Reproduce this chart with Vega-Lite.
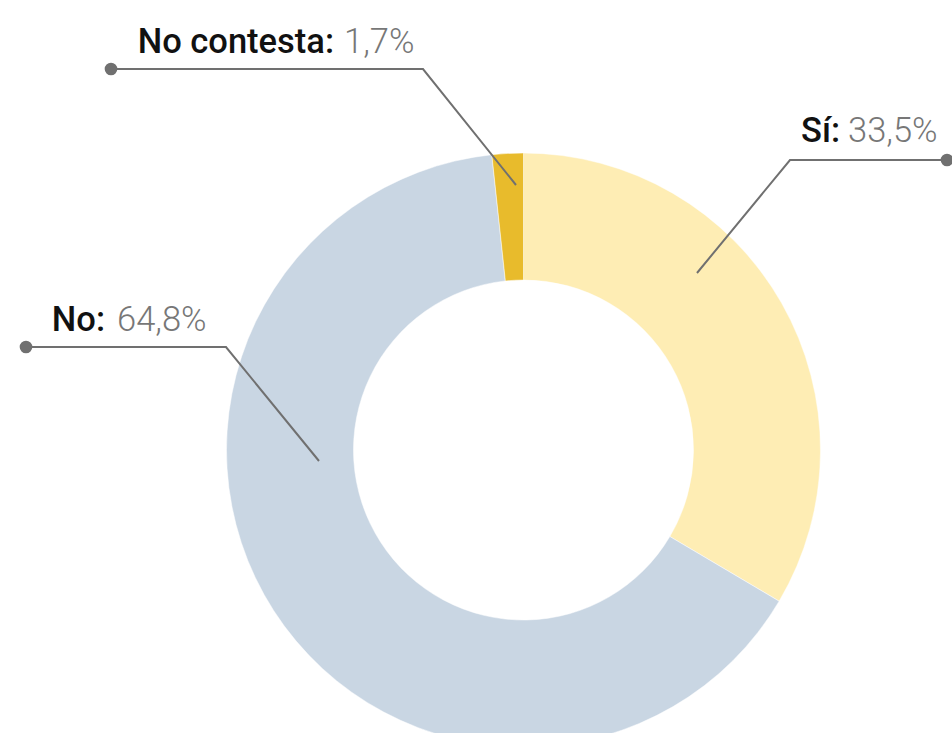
{
  "$schema": "https://vega.github.io/schema/vega-lite/v6.json",
  "autosize": {"type": "none"},
  "width": 952,
  "height": 733,
  "padding": 0,
  "background": "white",
  "config": {"view": {"stroke": null}, "font": "Roboto"},
  "datasets": {
    "slices": [
      {"respuesta": "Sí", "pct": 33.5, "ord": 1},
      {"respuesta": "No", "pct": 64.8, "ord": 2},
      {"respuesta": "No contesta", "pct": 1.7, "ord": 3}
    ],
    "leaders": [
      {"respuesta": "Sí", "step": 1, "lx": 1.735, "ly": 1.77},
      {"respuesta": "Sí", "step": 2, "lx": 2.665, "ly": 2.90},
      {"respuesta": "Sí", "step": 3, "lx": 4.235, "ly": 2.90},
      {"respuesta": "No contesta", "step": 1, "lx": -0.075, "ly": 2.65},
      {"respuesta": "No contesta", "step": 2, "lx": -1.005, "ly": 3.81},
      {"respuesta": "No contesta", "step": 3, "lx": -4.125, "ly": 3.81},
      {"respuesta": "No", "step": 1, "lx": -2.045, "ly": -0.11},
      {"respuesta": "No", "step": 2, "lx": -2.975, "ly": 1.03},
      {"respuesta": "No", "step": 3, "lx": -4.975, "ly": 1.03}
    ],
    "labels": [
      {"respuesta": "Sí", "titulo": "Sí:", "valor": "33,5%", "bx": 3.165, "vx": 3.245, "ty": 3.08},
      {"respuesta": "No contesta", "titulo": "No contesta:", "valor": "1,7%", "bx": -1.895, "vx": -1.795, "ty": 3.97},
      {"respuesta": "No", "titulo": "No:", "valor": "64,8%", "bx": -4.185, "vx": -4.065, "ty": 1.19}
    ]
  },
  "layer": [
    {
      "data": {"name": "slices"},
      "mark": {"type": "arc", "radius": 297, "radius2": 170, "stroke": "white", "strokeWidth": 0.5},
      "encoding": {
        "x": {"datum": 0, "type": "quantitative", "scale": {"domain": [-5.235, 4.285], "nice": false, "zero": false}, "axis": null},
        "y": {"datum": 0, "type": "quantitative", "scale": {"domain": [-2.83, 4.5], "nice": false, "zero": false}, "axis": null},
        "theta": {"field": "pct", "type": "quantitative", "stack": true},
        "order": {"field": "ord", "type": "quantitative"},
        "color": {
          "field": "respuesta",
          "type": "nominal",
          "scale": {"domain": ["Sí", "No", "No contesta"], "range": ["#FEEDB4", "#C9D6E3", "#E8BB2C"]},
          "legend": null
        }
      }
    },
    {
      "data": {"name": "leaders"},
      "mark": {"type": "line", "color": "#707070", "strokeWidth": 2},
      "encoding": {
        "x": {"field": "lx", "type": "quantitative", "axis": null},
        "y": {"field": "ly", "type": "quantitative", "axis": null},
        "detail": {"field": "respuesta"},
        "order": {"field": "step", "type": "quantitative"}
      }
    },
    {
      "data": {"name": "leaders"},
      "transform": [{"filter": "datum.step == 3"}],
      "mark": {"type": "point", "filled": true, "size": 160, "color": "#707070", "opacity": 1},
      "encoding": {
        "x": {"field": "lx", "type": "quantitative", "axis": null},
        "y": {"field": "ly", "type": "quantitative", "axis": null}
      }
    },
    {
      "data": {"name": "labels"},
      "mark": {"type": "text", "align": "right", "baseline": "alphabetic", "fontSize": 34.5, "fontWeight": 500, "color": "#111111"},
      "encoding": {
        "x": {"field": "bx", "type": "quantitative", "axis": null},
        "y": {"field": "ty", "type": "quantitative", "axis": null},
        "text": {"field": "titulo"}
      }
    },
    {
      "data": {"name": "labels"},
      "mark": {"type": "text", "align": "left", "baseline": "alphabetic", "fontSize": 34.5, "fontWeight": 300, "color": "#777777"},
      "encoding": {
        "x": {"field": "vx", "type": "quantitative", "axis": null},
        "y": {"field": "ty", "type": "quantitative", "axis": null},
        "text": {"field": "valor"}
      }
    }
  ]
}
